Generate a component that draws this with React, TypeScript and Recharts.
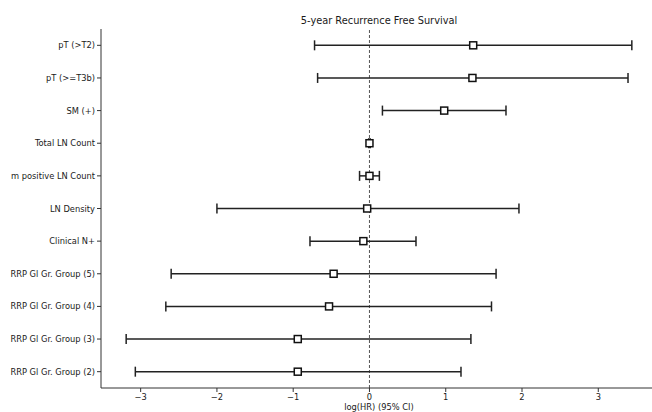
import { ComposedChart, Scatter, XAxis, YAxis, ErrorBar, ReferenceLine } from 'recharts'

const labels = [
  'pT (>T2)',
  'pT (>=T3b)',
  'SM (+)',
  'Total LN Count',
  'm positive LN Count',
  'LN Density',
  'Clinical N+',
  'RRP Gl Gr. Group (5)',
  'RRP Gl Gr. Group (4)',
  'RRP Gl Gr. Group (3)',
  'RRP Gl Gr. Group (2)',
]
const logHR = [1.36, 1.35, 0.98, 0.0, 0.0, -0.03, -0.08, -0.47, -0.53, -0.94, -0.94]
const ciLow = [-0.72, -0.68, 0.17, -0.01, -0.13, -2.0, -0.78, -2.6, -2.67, -3.19, -3.07]
const ciHigh = [3.44, 3.39, 1.79, 0.01, 0.13, 1.96, 0.61, 1.66, 1.6, 1.33, 1.2]
const xTicks = [-3, -2, -1, 0, 1, 2, 3]

const rows = labels.map((name, i) => ({
  name,
  y: i,
  x: logHR[i],
  err: [logHR[i] - ciLow[i], ciHigh[i] - logHR[i]],
}))

const FONT = '"DejaVu Sans", sans-serif'
const X_DOMAIN: [number, number] = [-3.52, 3.77]

const fmtX = (v: number) => (v < 0 ? '\u2212' + Math.abs(v) : String(v))

const Square = (props: any) => {
  const { cx, cy } = props
  if (cx == null || cy == null) return null
  return <rect x={cx - 3.5} y={cy - 3.5} width={7} height={7} fill="#fff" stroke="#111" strokeWidth={1.5} />
}

// one-line category labels, right aligned against the tick
const YTick = (props: any) => {
  const { x, y, payload } = props
  return (
    <text x={x} y={y} dy={3} textAnchor="end" fontSize={8.3} fill="#1a1a1a" fontFamily={FONT}>
      {labels[payload.value] ?? ''}
    </text>
  )
}

export default function App() {
  return (
    <div style={{ position: 'absolute', left: 0, top: 0, width: 652, height: 412, overflow: 'hidden', background: '#fff', fontFamily: FONT }}>
      <div style={{ position: 'absolute', left: 0, top: 15, width: 758, textAlign: 'center', fontSize: 9.8, color: '#1a1a1a', lineHeight: '12px' }}>
        5-year Recurrence Free Survival
      </div>
      <ComposedChart width={700} height={412} data={rows} margin={{ top: 29, right: 43, bottom: 0, left: 0 }}>
        <XAxis
          xAxisId="top"
          orientation="top"
          type="number"
          dataKey="x"
          domain={X_DOMAIN}
          allowDataOverflow
          tick={false}
          tickLine={false}
          height={0}
          axisLine={{ stroke: '#333' }}
        />
        <XAxis
          type="number"
          dataKey="x"
          domain={X_DOMAIN}
          allowDataOverflow
          ticks={xTicks}
          tickFormatter={fmtX}
          height={24}
          tickSize={4}
          tickMargin={2}
          axisLine={{ stroke: '#333' }}
          tickLine={{ stroke: '#333' }}
          tick={{ fontSize: 8.3, fill: '#1a1a1a', fontFamily: FONT }}
          label={{ value: 'log(HR) (95% CI)', position: 'insideBottom', offset: 2, fontSize: 8.3, fill: '#1a1a1a', fontFamily: FONT }}
        />
        <YAxis
          type="number"
          dataKey="y"
          domain={[-0.5, 10.5]}
          reversed
          ticks={rows.map(r => r.y)}
          interval={0}
          width={101}
          tickSize={4}
          tickMargin={2}
          axisLine={{ stroke: '#333' }}
          tickLine={{ stroke: '#333' }}
          tick={<YTick />}
        />
        <ReferenceLine x={0} stroke="#555" strokeDasharray="3 2" strokeWidth={1} />
        <Scatter dataKey="x" fill="#fff" shape={Square} isAnimationActive={false}>
          <ErrorBar dataKey="err" direction="x" width={5} stroke="#222" strokeWidth={1.5} />
        </Scatter>
      </ComposedChart>
    </div>
  )
}
